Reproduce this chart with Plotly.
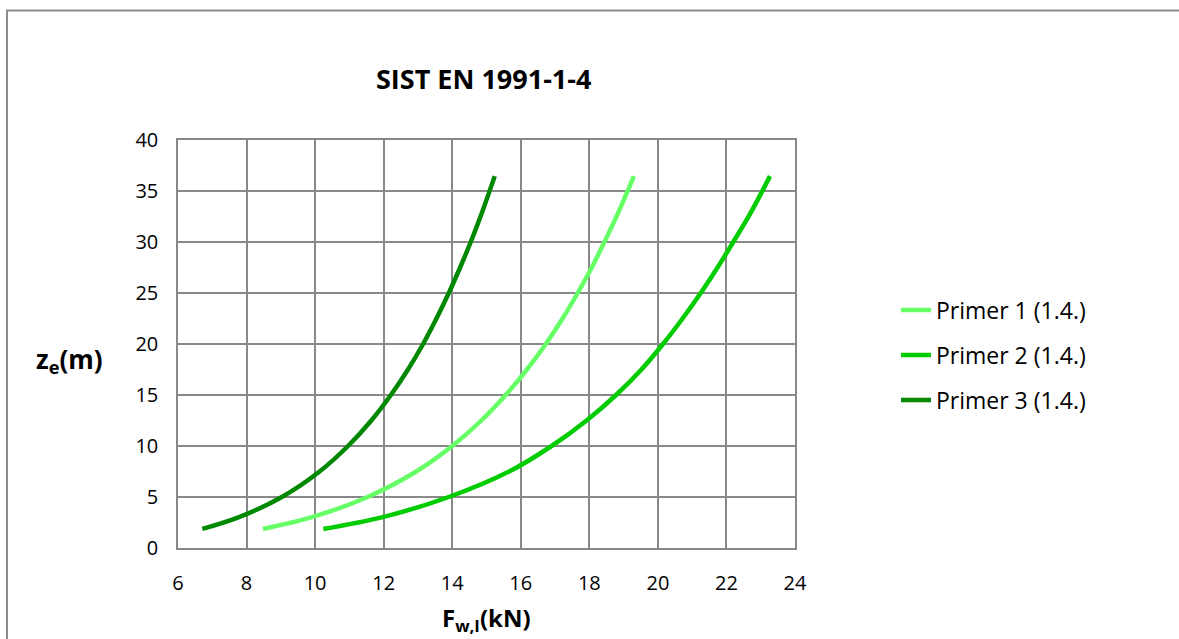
import plotly.graph_objects as go

z_e = [1.87, 3, 5, 7.5, 10, 12.5, 15, 17.5, 20, 22.5, 25, 27.5, 30, 33, 36.46]
primer1 = [8.48, 9.88, 11.53, 12.95, 14.0, 14.85, 15.56, 16.18, 16.73, 17.22, 17.66, 18.07, 18.44, 18.86, 19.3]
primer2 = [10.24, 11.94, 13.9, 15.66, 16.9, 17.92, 18.78, 19.52, 20.15, 20.72, 21.25, 21.74, 22.2, 22.73, 23.27]
primer3 = [6.71, 7.76, 9.03, 10.13, 10.96, 11.64, 12.21, 12.71, 13.15, 13.54, 13.9, 14.23, 14.54, 14.88, 15.24]

names = ["Primer 1 (1.4.)", "Primer 2 (1.4.)", "Primer 3 (1.4.)"]
colors = ["#66FF66", "#00CC00", "#008800"]
series = [primer1, primer2, primer3]

FONT = "Open Sans, Liberation Sans, sans-serif"
W, H = 1179, 639
L, R, T, B = 178, 795, 140, 548

fig = go.Figure()
legends = ["legend", "legend2", "legend3"]
for i, (nm, col, xs) in enumerate(zip(names, colors, series)):
    fig.add_trace(go.Scatter(
        x=xs, y=z_e, mode="lines", name=nm,
        line=dict(color=col, width=4.5, shape="spline", smoothing=1.0),
        legend=legends[i],
    ))

def px_x(p):
    return (p - L) / (R - L)

def px_y(p):
    return (B - p) / (B - T)

leg_common = dict(font=dict(family=FONT, size=23, color="#000000"),
                  bgcolor="rgba(0,0,0,0)", xanchor="left", yanchor="middle",
                  itemwidth=30, borderwidth=0)
layout_legs = {}
for i, yy in enumerate([310, 355, 400]):
    key = legends[i]
    layout_legs[key] = dict(leg_common, x=px_x(896), y=px_y(yy))

axis_common = dict(showgrid=True, gridcolor="#898989", gridwidth=1.5,
                   showline=True, linecolor="#898989", linewidth=1.5,
                   mirror=True, zeroline=False, ticks="",
                   tickfont=dict(family=FONT, size=20, color="#000000"))

fig.update_layout(
    width=W, height=H,
    margin=dict(l=L, r=W - R, t=T, b=H - B),
    paper_bgcolor="white", plot_bgcolor="white",
    showlegend=True,
    font=dict(family=FONT, size=20, color="#000000"),
    xaxis=dict(axis_common, range=[6, 24], dtick=2, tick0=6, ticklabelstandoff=16),
    yaxis=dict(axis_common, range=[0, 40], dtick=5, tick0=0, ticklabelstandoff=14),
    shapes=[dict(type="rect", xref="paper", yref="paper",
                 x0=px_x(7), x1=px_x(1200), y0=px_y(660), y1=px_y(10.5),
                 line=dict(color="#8C8C8C", width=2), layer="below")],
    annotations=[
        dict(text="<b>SIST EN 1991-1-4</b>", xref="paper", yref="paper",
             x=px_x(483), y=px_y(78), xanchor="center", yanchor="middle",
             showarrow=False, font=dict(family=FONT, size=27)),
        dict(text="<b>z<sub>e</sub>(m)</b>", xref="paper", yref="paper",
             x=px_x(69), y=px_y(360), xanchor="center", yanchor="middle",
             showarrow=False, font=dict(family=FONT, size=26)),
        dict(text="<b>F<sub>w,I</sub>(kN)</b>", xref="paper", yref="paper",
             x=px_x(486), y=px_y(619), xanchor="center", yanchor="middle",
             showarrow=False, font=dict(family=FONT, size=24)),
    ],
    **layout_legs,
)

fig.write_html("out.html")
